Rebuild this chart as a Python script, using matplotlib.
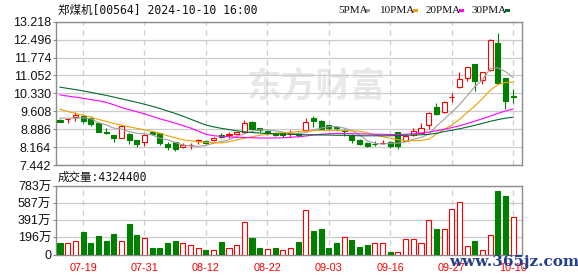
import matplotlib
matplotlib.use('Agg')
import matplotlib.pyplot as plt
import numpy as np

# ---------------- data ----------------
opens = [9.26, 9.28, 9.38, 9.40, 9.33, 9.13, 8.78, 8.64, 8.55, 8.71,
         8.44, 8.38, 8.76, 8.72, 8.29, 8.35, 8.17, 8.24, 8.42, 8.42,
         8.43, 8.64, 8.67, 8.70, 8.78, 9.17, 8.93, 8.82, 8.72, 8.75,
         8.69, 8.75, 8.86, 9.34, 9.23, 9.05, 8.97, 8.87, 8.66, 8.46,
         8.32, 8.30, 8.31, 8.35, 8.79, 8.41, 8.64, 8.75, 9.06, 9.78,
         9.58, 10.18, 10.58, 10.93, 11.50, 10.87, 11.26, 12.35, 10.93, 10.22]
highs = [9.28, 9.29, 9.56, 9.45, 9.40, 9.15, 8.93, 8.64, 9.07, 8.75,
         8.45, 8.70, 8.80, 8.75, 8.38, 8.35, 8.32, 8.34, 8.48, 8.45,
         8.58, 8.72, 8.79, 8.79, 9.26, 9.21, 8.93, 8.86, 8.75, 8.75,
         8.86, 8.79, 9.33, 9.40, 9.26, 9.06, 9.02, 8.90, 8.70, 8.50,
         8.37, 8.39, 8.46, 8.39, 8.79, 8.68, 8.93, 9.12, 9.57, 9.94,
         10.03, 10.34, 11.20, 11.41, 11.50, 11.20, 12.51, 12.77, 10.93, 10.51]
lows = [9.17, 9.13, 9.23, 9.15, 9.02, 8.78, 8.68, 8.375, 8.52, 8.29,
        8.15, 8.21, 8.66, 8.25, 8.05, 7.99, 8.14, 8.08, 8.30, 8.30,
        8.41, 8.52, 8.52, 8.66, 8.75, 8.86, 8.78, 8.66, 8.62, 8.56,
        8.56, 8.59, 8.83, 8.99, 8.88, 8.86, 8.83, 8.62, 8.32, 8.24,
        8.18, 8.19, 8.27, 8.11, 8.09, 8.39, 8.61, 8.73, 8.88, 9.47,
        9.54, 10.00, 10.56, 10.83, 10.42, 10.70, 11.24, 10.70, 9.71, 9.94]
closes = [9.18, 9.29, 9.46, 9.20, 9.10, 8.78, 8.74, 8.54, 9.03, 8.43,
          8.28, 8.67, 8.68, 8.32, 8.15, 8.08, 8.23, 8.26, 8.44, 8.32,
          8.55, 8.56, 8.70, 8.76, 9.15, 8.89, 8.85, 8.76, 8.64, 8.66,
          8.72, 8.66, 9.19, 9.22, 8.91, 8.95, 8.92, 8.80, 8.43, 8.28,
          8.22, 8.27, 8.33, 8.19, 8.22, 8.63, 8.83, 8.92, 9.54, 9.51,
          9.99, 10.20, 10.89, 11.41, 10.84, 11.20, 12.50, 10.76, 10.01, 10.18]
# volume in 万 shares
volumes = [130, 130, 160, 255, 130, 206, 160, 232, 160, 347,
           221, 183, 80, 80, 130, 160, 126, 103, 69, 50,
           46, 141, 80, 114, 366, 183, 80, 65, 80, 53,
           80, 141, 514, 263, 297, 80, 126, 202, 171, 91,
           103, 137, 126, 23, 23, 179, 179, 126, 396, 286,
           297, 522, 602, 99, 149, 53, 225, 731, 663, 432.44]
vol_up = [0, 1, 1, 0, 0, 0, 0, 0, 1, 0,
          0, 1, 0, 0, 0, 0, 1, 1, 1, 0,
          1, 0, 1, 1, 1, 0, 0, 1, 0, 1,
          1, 0, 1, 0, 0, 0, 0, 1, 0, 0,
          0, 1, 1, 0, 1, 1, 1, 1, 1, 0,
          1, 1, 1, 1, 0, 1, 1, 0, 0, 1]
ma5 = [9.33, 9.33, 9.33, 9.34, 9.31, 9.15, 9.06, 8.93, 8.89, 8.79,
       8.72, 8.70, 8.66, 8.52, 8.46, 8.35, 8.25, 8.21, 8.19, 8.23,
       8.32, 8.39, 8.46, 8.59, 8.70, 8.79, 8.86, 8.86, 8.82, 8.77,
       8.72, 8.70, 8.75, 8.86, 8.93, 8.99, 8.99, 8.93, 8.83, 8.66,
       8.42, 8.32, 8.28, 8.32, 8.32, 8.38, 8.48, 8.55, 8.68, 9.01,
       9.28, 9.57, 9.87, 10.23, 10.60, 10.87, 11.33, 11.36, 11.20, 10.97]
ma10 = [9.69, 9.60, 9.52, 9.45, 9.37, 9.28, 9.20, 9.12, 9.05, 8.98,
        8.92, 8.86, 8.80, 8.72, 8.62, 8.54, 8.46, 8.42, 8.38, 8.36,
        8.34, 8.33, 8.38, 8.45, 8.52, 8.58, 8.64, 8.68, 8.72, 8.74,
        8.76, 8.79, 8.81, 8.83, 8.84, 8.84, 8.84, 8.83, 8.82, 8.80,
        8.74, 8.66, 8.58, 8.52, 8.46, 8.42, 8.42, 8.43, 8.48, 8.68,
        8.88, 9.05, 9.28, 9.55, 9.82, 10.12, 10.45, 10.68, 10.77, 10.79]
ma20 = [10.27, 10.22, 10.18, 10.13, 10.08, 10.03, 9.97, 9.87, 9.76, 9.67,
        9.59, 9.50, 9.40, 9.30, 9.22, 9.13, 9.03, 8.93, 8.81, 8.68,
        8.62, 8.60, 8.58, 8.56, 8.55, 8.54, 8.53, 8.53, 8.53, 8.54,
        8.56, 8.58, 8.61, 8.65, 8.68, 8.70, 8.71, 8.71, 8.70, 8.70,
        8.69, 8.68, 8.68, 8.67, 8.67, 8.68, 8.70, 8.73, 8.77, 8.82,
        8.88, 8.95, 9.02, 9.11, 9.21, 9.31, 9.41, 9.52, 9.62, 9.70]
ma30 = [10.58, 10.53, 10.48, 10.43, 10.37, 10.31, 10.25, 10.18, 10.11, 10.04,
        9.97, 9.89, 9.81, 9.72, 9.62, 9.52, 9.41, 9.29, 9.17, 9.05,
        8.98, 8.92, 8.87, 8.82, 8.78, 8.75, 8.73, 8.71, 8.70, 8.69,
        8.68, 8.67, 8.66, 8.66, 8.65, 8.65, 8.64, 8.64, 8.63, 8.62,
        8.62, 8.62, 8.62, 8.62, 8.63, 8.64, 8.65, 8.66, 8.68, 8.72,
        8.79, 8.84, 8.90, 8.97, 9.04, 9.12, 9.20, 9.27, 9.33, 9.37]

tick_idx = [3, 11, 19, 27, 35, 43, 51, 59]
tick_labels = ['07-19', '07-31', '08-12', '08-22', '09-03', '09-16', '09-27', '10-10']
price_ticks = [7.442, 8.164, 8.886, 9.608, 10.330, 11.052, 11.774, 12.496, 13.218]
vol_ticks = [0, 196, 391, 587, 783]
vol_tick_labels = ['0', '196万', '391万', '587万', '783万']
ma_names = ['5PMA', '10PMA', '20PMA', '30PMA']
ma_colors = ['#a0a0a0', '#f0a000', '#ff00ff', '#006b30']
title_text = '郑煤机[00564] 2024-10-10 16:00'
vol_title = '成交量:4324400'

# ---------------- style ----------------
RED = '#ff0000'
GREEN = '#008000'
GRID = '#cccccc'
SPINE = '#8c8c8c'
CJK = ['DejaVu Sans Mono', 'Noto Sans CJK SC']
NUMF = ['Liberation Sans', 'Noto Sans CJK SC']

W, H = 578, 276
fig = plt.figure(figsize=(W / 100, H / 100), dpi=100)

def axrect(x0, y0, x1, y1):
    return [x0 / W, 1 - y1 / H, (x1 - x0) / W, (y1 - y0) / H]

ax = fig.add_axes(axrect(56, 21.7, 522, 165))
axv = fig.add_axes(axrect(56, 186, 522, 254.5))

n = len(closes)
x = np.arange(n)
xlim = (-0.52, 60.15)

# watermark
ax.text(0.56, 0.55, '东方财富', transform=ax.transAxes, fontsize=25, fontweight='bold',
        color='#e8e8e8', family=['Noto Sans CJK SC'], ha='center', va='center', zorder=0)

# candles
bw = 0.66
for i in range(n):
    o, h, l, c = opens[i], highs[i], lows[i], closes[i]
    up = c >= o
    col = RED if up else GREEN
    ax.vlines(i, l, h, color=col, linewidth=0.8, zorder=3)
    bottom = min(o, c)
    height = max(abs(c - o), 0.004)
    ax.bar(i, height, bottom=bottom, width=bw,
           facecolor='white' if up else GREEN, edgecolor=col,
           linewidth=0.8, zorder=4)

# moving averages
for vals, colr in zip([ma5, ma10, ma20, ma30], ma_colors):
    ax.plot(x, vals, color=colr, linewidth=0.8, zorder=5)

ax.set_xlim(*xlim)
ax.set_ylim(price_ticks[0], price_ticks[-1])
ax.set_yticks(price_ticks)
ax.set_yticklabels([f'{t:.3f}' for t in price_ticks], family=NUMF, fontsize=9)
ax.set_xticks(tick_idx)
ax.set_xticklabels([])

# volume
for i in range(n):
    if vol_up[i]:
        axv.bar(i, volumes[i], width=bw, facecolor='white', edgecolor=RED,
                linewidth=0.8, zorder=3)
    else:
        axv.bar(i, volumes[i], width=bw, facecolor=GREEN, edgecolor=GREEN,
                linewidth=0.8, zorder=3)
axv.set_xlim(*xlim)
axv.set_ylim(0, 783)
axv.set_yticks(vol_ticks)
axv.set_yticklabels(vol_tick_labels, family=NUMF, fontsize=9)
axv.set_xticks(tick_idx)
axv.set_xticklabels(tick_labels, family=NUMF, fontsize=7.8, color=RED)

for a in (ax, axv):
    a.set_facecolor('white')
    for s in a.spines.values():
        s.set_color(SPINE)
        s.set_linewidth(1.0)
    a.grid(axis='y', color=GRID, linewidth=0.9, linestyle='-', zorder=0)
    a.grid(axis='x', color=GRID, linewidth=0.9, linestyle=(0, (4, 4)), zorder=0)
    a.set_axisbelow(True)
    a.tick_params(axis='y', length=2, width=0.8, color=SPINE, pad=1.5, labelcolor='#111111')
    a.tick_params(axis='x', length=0, pad=6)

# titles
fig.text(58 / W, 1 - 10.5 / H, title_text, family=CJK, fontsize=8.3, color='#111111',
         ha='left', va='center')
fig.text(58 / W, 1 - 177 / H, vol_title, family=CJK, fontsize=8.3, color='#111111',
         ha='left', va='center')

# legend
leg_x = [338, 380, 426, 472]
for name, lx in zip(ma_names, leg_x):
    fig.text(lx / W, 1 - 10.5 / H, name, family=['Liberation Serif'], fontsize=8,
             color='#111111', ha='left', va='center')
leg_sq = [365, 413, 459, 505]
for colr, sx in zip(ma_colors, leg_sq):
    fig.patches.append(plt.Rectangle((sx / W, 1 - 12 / H), 5 / W, 3.5 / H,
                                     transform=fig.transFigure, facecolor=colr,
                                     edgecolor='none'))

# site watermark (overlays the date labels, as in the source picture)
fig.text(514 / W, 1 - 262 / H, 'www.365jz.com', family=['DejaVu Serif'], fontsize=11,
         fontweight='bold', color='#243f8a', ha='center', va='center', zorder=10)

fig.savefig('out.png', dpi=100, facecolor='white')
